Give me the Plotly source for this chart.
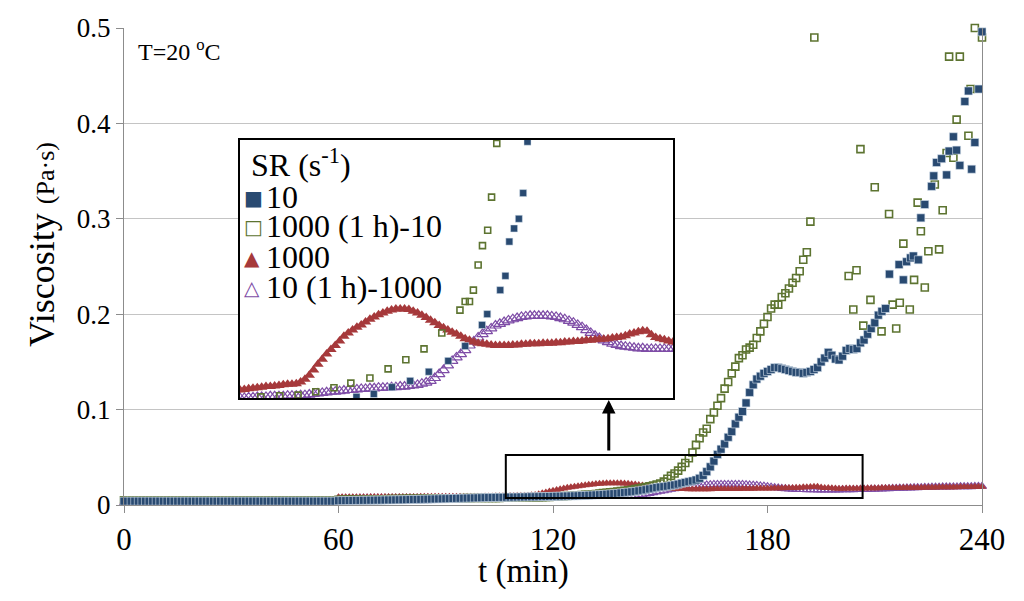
import plotly.graph_objects as go

# ---- data ----
# 1-min sampled series (triangles), t = 0..240 min
t_full = list(range(0, 241))

visc_1000 = [
    0.0040, 0.0040, 0.0040, 0.0040, 0.0040, 0.0040, 0.0040, 0.0040, 0.0040, 0.0040,
    0.0040, 0.0040, 0.0040, 0.0040, 0.0040, 0.0040, 0.0040, 0.0040, 0.0040, 0.0040,
    0.0040, 0.0040, 0.0040, 0.0040, 0.0040, 0.0040, 0.0040, 0.0040, 0.0040, 0.0040,
    0.0040, 0.0040, 0.0040, 0.0040, 0.0040, 0.0040, 0.0040, 0.0040, 0.0040, 0.0040,
    0.0040, 0.0040, 0.0040, 0.0040, 0.0040, 0.0040, 0.0040, 0.0040, 0.0040, 0.0040,
    0.0040, 0.0040, 0.0040, 0.0040, 0.0040, 0.0040, 0.0040, 0.0040, 0.0040, 0.0040,
    0.0080, 0.0080, 0.0081, 0.0081, 0.0081, 0.0082, 0.0082, 0.0082, 0.0082, 0.0083,
    0.0083, 0.0083, 0.0083, 0.0084, 0.0084, 0.0084, 0.0084, 0.0084, 0.0085, 0.0085,
    0.0085, 0.0085, 0.0085, 0.0086, 0.0086, 0.0086, 0.0086, 0.0086, 0.0086, 0.0087,
    0.0087, 0.0087, 0.0087, 0.0087, 0.0087, 0.0087, 0.0087, 0.0087, 0.0087, 0.0087,
    0.0087, 0.0088, 0.0089, 0.0090, 0.0091, 0.0092, 0.0093, 0.0093, 0.0094, 0.0095,
    0.0096, 0.0097, 0.0097, 0.0098, 0.0101, 0.0106, 0.0113, 0.0122, 0.0132, 0.0141,
    0.0150, 0.0158, 0.0165, 0.0173, 0.0181, 0.0187, 0.0192, 0.0197, 0.0201, 0.0206,
    0.0211, 0.0215, 0.0219, 0.0222, 0.0225, 0.0227, 0.0229, 0.0229, 0.0229, 0.0228,
    0.0225, 0.0222, 0.0218, 0.0214, 0.0209, 0.0205, 0.0200, 0.0196, 0.0192, 0.0188,
    0.0185, 0.0181, 0.0177, 0.0174, 0.0171, 0.0169, 0.0168, 0.0167, 0.0166, 0.0165,
    0.0165, 0.0165, 0.0165, 0.0166, 0.0166, 0.0167, 0.0167, 0.0168, 0.0168, 0.0168,
    0.0169, 0.0169, 0.0169, 0.0170, 0.0170, 0.0171, 0.0171, 0.0172, 0.0172, 0.0173,
    0.0174, 0.0174, 0.0175, 0.0176, 0.0176, 0.0177, 0.0178, 0.0179, 0.0180, 0.0182,
    0.0185, 0.0187, 0.0189, 0.0191, 0.0190, 0.0184, 0.0179, 0.0177, 0.0175, 0.0173,
    0.0171, 0.0171, 0.0172, 0.0172, 0.0173, 0.0173, 0.0174, 0.0174, 0.0175, 0.0175,
    0.0176, 0.0176, 0.0177, 0.0177, 0.0178, 0.0178, 0.0179, 0.0179, 0.0180, 0.0180,
    0.0181, 0.0181, 0.0182, 0.0182, 0.0183, 0.0183, 0.0184, 0.0184, 0.0185, 0.0185,
    0.0186, 0.0186, 0.0187, 0.0187, 0.0188, 0.0188, 0.0189, 0.0189, 0.0190, 0.0190, 0.0191,
]

visc_10_1000 = [
    0.0020, 0.0020, 0.0020, 0.0020, 0.0020, 0.0020, 0.0020, 0.0020, 0.0020, 0.0020,
    0.0020, 0.0020, 0.0020, 0.0020, 0.0020, 0.0020, 0.0020, 0.0020, 0.0020, 0.0020,
    0.0020, 0.0020, 0.0020, 0.0020, 0.0020, 0.0020, 0.0020, 0.0020, 0.0020, 0.0020,
    0.0020, 0.0020, 0.0020, 0.0020, 0.0020, 0.0020, 0.0020, 0.0020, 0.0020, 0.0020,
    0.0020, 0.0020, 0.0020, 0.0020, 0.0020, 0.0020, 0.0020, 0.0020, 0.0020, 0.0020,
    0.0020, 0.0020, 0.0020, 0.0020, 0.0020, 0.0020, 0.0020, 0.0020, 0.0020, 0.0020,
    0.0070, 0.0070, 0.0070, 0.0070, 0.0070, 0.0070, 0.0071, 0.0071, 0.0071, 0.0071,
    0.0071, 0.0071, 0.0071, 0.0071, 0.0071, 0.0072, 0.0072, 0.0072, 0.0072, 0.0072,
    0.0072, 0.0072, 0.0072, 0.0072, 0.0072, 0.0072, 0.0073, 0.0073, 0.0073, 0.0073,
    0.0073, 0.0073, 0.0073, 0.0073, 0.0073, 0.0073, 0.0073, 0.0073, 0.0073, 0.0073,
    0.0073, 0.0073, 0.0074, 0.0074, 0.0075, 0.0075, 0.0075, 0.0076, 0.0076, 0.0076,
    0.0076, 0.0077, 0.0077, 0.0077, 0.0078, 0.0078, 0.0079, 0.0080, 0.0081, 0.0082,
    0.0083, 0.0084, 0.0084, 0.0085, 0.0086, 0.0087, 0.0087, 0.0088, 0.0089, 0.0089,
    0.0090, 0.0090, 0.0091, 0.0091, 0.0091, 0.0092, 0.0092, 0.0093, 0.0093, 0.0094,
    0.0095, 0.0096, 0.0098, 0.0100, 0.0103, 0.0108, 0.0115, 0.0122, 0.0130, 0.0138,
    0.0144, 0.0150, 0.0157, 0.0165, 0.0172, 0.0179, 0.0185, 0.0190, 0.0195, 0.0200,
    0.0203, 0.0206, 0.0209, 0.0211, 0.0213, 0.0215, 0.0216, 0.0217, 0.0217, 0.0217,
    0.0217, 0.0217, 0.0216, 0.0215, 0.0213, 0.0211, 0.0208, 0.0205, 0.0201, 0.0197,
    0.0192, 0.0187, 0.0182, 0.0178, 0.0174, 0.0171, 0.0168, 0.0166, 0.0164, 0.0163,
    0.0162, 0.0161, 0.0160, 0.0160, 0.0159, 0.0159, 0.0159, 0.0159, 0.0159, 0.0159,
    0.0159, 0.0160, 0.0160, 0.0161, 0.0161, 0.0162, 0.0163, 0.0163, 0.0164, 0.0165,
    0.0166, 0.0167, 0.0169, 0.0170, 0.0172, 0.0173, 0.0175, 0.0176, 0.0177, 0.0178,
    0.0180, 0.0181, 0.0182, 0.0183, 0.0184, 0.0185, 0.0186, 0.0187, 0.0188, 0.0189,
    0.0190, 0.0190, 0.0191, 0.0191, 0.0192, 0.0192, 0.0193, 0.0193, 0.0194, 0.0195, 0.0196,
]

# SR = 10 (filled squares): 1-min points up to 213 min, then scattered points
t_10 = list(range(0, 214)) + [
    214.1, 216.8, 218.0, 218.9, 220.0, 220.8, 222.2, 222.9, 224.0, 225.9,
    226.5, 227.3, 228.7, 230.1, 230.8, 232.0, 232.9, 233.8, 235.2, 236.2,
    237.1, 238.0, 239.1, 240.0,
]
visc_10 = [
    0.0040, 0.0040, 0.0040, 0.0040, 0.0040, 0.0040, 0.0040, 0.0040, 0.0040, 0.0040,
    0.0040, 0.0040, 0.0040, 0.0040, 0.0040, 0.0040, 0.0040, 0.0040, 0.0040, 0.0040,
    0.0040, 0.0040, 0.0040, 0.0040, 0.0040, 0.0040, 0.0040, 0.0040, 0.0040, 0.0040,
    0.0040, 0.0040, 0.0040, 0.0040, 0.0040, 0.0040, 0.0040, 0.0040, 0.0040, 0.0040,
    0.0040, 0.0040, 0.0040, 0.0040, 0.0040, 0.0040, 0.0040, 0.0040, 0.0040, 0.0040,
    0.0040, 0.0040, 0.0040, 0.0040, 0.0040, 0.0040, 0.0040, 0.0040, 0.0040, 0.0040,
    0.0045, 0.0046, 0.0046, 0.0047, 0.0047, 0.0048, 0.0048, 0.0049, 0.0049, 0.0050,
    0.0050, 0.0051, 0.0051, 0.0052, 0.0053, 0.0053, 0.0054, 0.0055, 0.0055, 0.0056,
    0.0057, 0.0058, 0.0058, 0.0059, 0.0060, 0.0061, 0.0062, 0.0063, 0.0064, 0.0065,
    0.0066, 0.0067, 0.0068, 0.0069, 0.0070, 0.0071, 0.0072, 0.0073, 0.0074, 0.0075,
    0.0076, 0.0077, 0.0078, 0.0078, 0.0079, 0.0080, 0.0080, 0.0081, 0.0082, 0.0082,
    0.0083, 0.0084, 0.0084, 0.0085, 0.0086, 0.0086, 0.0087, 0.0088, 0.0088, 0.0089,
    0.0090, 0.0091, 0.0092, 0.0093, 0.0094, 0.0095, 0.0096, 0.0097, 0.0099, 0.0100,
    0.0102, 0.0104, 0.0106, 0.0108, 0.0110, 0.0113, 0.0116, 0.0119, 0.0122, 0.0126,
    0.0130, 0.0134, 0.0138, 0.0143, 0.0148, 0.0154, 0.0160, 0.0168, 0.0175, 0.0182,
    0.0188, 0.0192, 0.0197, 0.0203, 0.0210, 0.0218, 0.0228, 0.0236, 0.0244, 0.0252,
    0.0262, 0.0280, 0.0310, 0.0350, 0.0400, 0.0460, 0.0530, 0.0585, 0.0640, 0.0710,
    0.0770, 0.0850, 0.0920, 0.0980, 0.1070, 0.1180, 0.1260, 0.1320, 0.1350, 0.1380,
    0.1400, 0.1420, 0.1440, 0.1440, 0.1430, 0.1420, 0.1410, 0.1400, 0.1390, 0.1390,
    0.1380, 0.1390, 0.1400, 0.1420, 0.1440, 0.1500, 0.1540, 0.1600, 0.1570, 0.1530,
    0.1520, 0.1560, 0.1620, 0.1640, 0.1630, 0.1640, 0.1700, 0.1730, 0.1790, 0.1850,
    0.1910, 0.1990, 0.2030, 0.2060,
    0.242, 0.252, 0.236, 0.255, 0.259, 0.261, 0.257, 0.301, 0.315, 0.334,
    0.345, 0.359, 0.363, 0.346, 0.371, 0.386, 0.372, 0.356, 0.423, 0.434,
    0.352, 0.380, 0.436, 0.496,
]

# SR = 1000 (1 h) - 10 (open squares)
t_1000_10 = list(range(0, 193)) + [
    193.1, 202.7, 204.0, 204.9, 206.0, 206.8, 208.8, 210.0, 211.9, 214.0,
    215.0, 216.0, 217.0, 218.0, 219.8, 221.0, 222.0, 222.9, 224.0, 225.0,
    226.8, 228.0, 229.0, 230.1, 230.8, 232.0, 232.9, 233.8, 236.2, 236.8,
    238.0, 240.0,
]
visc_1000_10 = [
    0.0050, 0.0050, 0.0050, 0.0050, 0.0050, 0.0050, 0.0050, 0.0050, 0.0050, 0.0050,
    0.0050, 0.0050, 0.0050, 0.0050, 0.0050, 0.0050, 0.0050, 0.0050, 0.0050, 0.0050,
    0.0050, 0.0050, 0.0050, 0.0050, 0.0050, 0.0050, 0.0050, 0.0050, 0.0050, 0.0050,
    0.0050, 0.0050, 0.0050, 0.0050, 0.0050, 0.0050, 0.0050, 0.0050, 0.0050, 0.0050,
    0.0050, 0.0050, 0.0050, 0.0050, 0.0050, 0.0050, 0.0050, 0.0050, 0.0050, 0.0050,
    0.0050, 0.0050, 0.0050, 0.0050, 0.0050, 0.0050, 0.0050, 0.0050, 0.0050, 0.0050,
    0.0055, 0.0055, 0.0056, 0.0056, 0.0057, 0.0057, 0.0058, 0.0058, 0.0059, 0.0059,
    0.0060, 0.0060, 0.0061, 0.0061, 0.0062, 0.0062, 0.0063, 0.0063, 0.0064, 0.0064,
    0.0065, 0.0065, 0.0066, 0.0066, 0.0067, 0.0067, 0.0068, 0.0068, 0.0069, 0.0069,
    0.0070, 0.0070, 0.0071, 0.0071, 0.0071, 0.0072, 0.0072, 0.0072, 0.0073, 0.0073,
    0.0073, 0.0074, 0.0074, 0.0075, 0.0075, 0.0075, 0.0076, 0.0076, 0.0077, 0.0077,
    0.0077, 0.0078, 0.0078, 0.0078, 0.0079, 0.0080, 0.0081, 0.0082, 0.0084, 0.0085,
    0.0087, 0.0089, 0.0091, 0.0093, 0.0095, 0.0097, 0.0099, 0.0101, 0.0103, 0.0106,
    0.0108, 0.0112, 0.0116, 0.0120, 0.0124, 0.0128, 0.0132, 0.0136, 0.0140, 0.0145,
    0.0150, 0.0155, 0.0159, 0.0166, 0.0173, 0.0180, 0.0187, 0.0196, 0.0205, 0.0215,
    0.0225, 0.0245, 0.0275, 0.0305, 0.0330, 0.0360, 0.0400, 0.0440, 0.0490, 0.0550,
    0.0630, 0.0700, 0.0760, 0.0800, 0.0900, 0.0970, 0.1040, 0.1120, 0.1220, 0.1290,
    0.1380, 0.1450, 0.1540, 0.1570, 0.1630, 0.1650, 0.1680, 0.1750, 0.1820, 0.1900,
    0.1970, 0.2060, 0.2100, 0.2100, 0.2180, 0.2220, 0.2270, 0.2330, 0.2380, 0.2450,
    0.2570, 0.2650, 0.2970,
    0.490, 0.240, 0.205, 0.246, 0.373, 0.188, 0.215, 0.333, 0.182, 0.305,
    0.210, 0.185, 0.212, 0.274, 0.205, 0.236, 0.317, 0.287, 0.228, 0.266,
    0.336, 0.268, 0.309, 0.369, 0.470, 0.364, 0.404, 0.470, 0.387, 0.436,
    0.500, 0.490,
]

# inset: sparser square series as drawn in the enlarged view
inset_t_1000_10 = [104.8, 109.2, 113.4, 117.5, 121.7, 125.6, 130.0, 134.2, 138.3, 142.5,
                   146.6, 150.8, 152.0, 153.0, 153.9, 155.0, 156.0, 157.2, 158.1, 159.3]
inset_visc_1000_10 = [0.0075, 0.0077, 0.0078, 0.0084, 0.0091, 0.0099, 0.0108, 0.0124, 0.0140, 0.0159,
                      0.0187, 0.0227, 0.0242, 0.0242, 0.0262, 0.0306, 0.0340, 0.0367, 0.0425, 0.0519]
inset_t_10 = [126.9, 130.9, 135.1, 139.3, 143.6, 148.1, 152.0, 155.9, 157.1, 160.1,
              161.3, 162.2, 163.3, 164.4, 165.4, 166.4]
inset_visc_10 = [0.0075, 0.0080, 0.0092, 0.0103, 0.0119, 0.0138, 0.0164, 0.0201, 0.0220, 0.0262,
                 0.0287, 0.0347, 0.0370, 0.0387, 0.0432, 0.0522]

x_ticks = [0, 60, 120, 180, 240]
y_ticks = [0, 0.1, 0.2, 0.3, 0.4, 0.5]
y_ticktext = ["0", "0.1", "0.2", "0.3", "0.4", "0.5"]

legend_labels = ["10", "1000 (1 h)-10", "1000", "10 (1 h)-1000"]
legend_glyphs = ["\u25A0", "\u25A1", "\u25B2", "\u25B3"]

# ---- styling ----
FONT = "Liberation Serif"
C_BLUE = "#294a71"
C_GREEN = "#5d7431"
C_RED = "#a6393b"
C_PURPLE = "#7e4ca6"
colors = [C_BLUE, C_GREEN, C_RED, C_PURPLE]

# page body has an 8px margin, so the figure is a bit smaller than the window
OFF = 8
W, H = 1016, 593
ML, MR, MT, MB = 116, 42, 20, 96


def px_x(px):
    # screen pixel -> paper fraction
    return (px - OFF - ML) / (W - ML - MR)


def px_y(py):
    return (H - MB - (py - OFF)) / (H - MB - MT)


inset_x = [px_x(240), px_x(673)]
inset_y = [px_y(398), px_y(140)]
zoom_x = [100, 200]
zoom_y = [0.0073, 0.0525]

fig = go.Figure()

# main plot (bottom to top: purple, red, green, blue)
fig.add_trace(go.Scatter(x=t_full, y=visc_10_1000, mode="markers", cliponaxis=False,
                         marker=dict(symbol="triangle-up-open", size=8, color=C_PURPLE,
                                     line=dict(width=1.1, color=C_PURPLE))))
fig.add_trace(go.Scatter(x=t_full, y=visc_1000, mode="markers", cliponaxis=False,
                         marker=dict(symbol="triangle-up", size=8, color=C_RED,
                                     line=dict(width=0))))
fig.add_trace(go.Scatter(x=t_1000_10, y=visc_1000_10, mode="markers", cliponaxis=False,
                         marker=dict(symbol="square-open", size=7, color=C_GREEN,
                                     line=dict(width=1.6, color=C_GREEN))))
fig.add_trace(go.Scatter(x=t_10, y=visc_10, mode="markers", cliponaxis=False,
                         marker=dict(symbol="square", size=8, color=C_BLUE,
                                     line=dict(width=0.6, color="#d5e0ec"))))

# inset (enlarged view)
fig.add_trace(go.Scatter(x=t_full, y=visc_10_1000, mode="markers", xaxis="x2", yaxis="y2",
                         marker=dict(symbol="triangle-up-open", size=10, color=C_PURPLE,
                                     line=dict(width=1.2, color=C_PURPLE))))
fig.add_trace(go.Scatter(x=t_full, y=visc_1000, mode="markers", xaxis="x2", yaxis="y2",
                         marker=dict(symbol="triangle-up", size=10, color=C_RED,
                                     line=dict(width=0))))
fig.add_trace(go.Scatter(x=inset_t_1000_10, y=inset_visc_1000_10, mode="markers",
                         xaxis="x2", yaxis="y2",
                         marker=dict(symbol="square-open", size=6, color=C_GREEN,
                                     line=dict(width=1.6, color=C_GREEN))))
fig.add_trace(go.Scatter(x=inset_t_10, y=inset_visc_10, mode="markers",
                         xaxis="x2", yaxis="y2",
                         marker=dict(symbol="square", size=7, color=C_BLUE,
                                     line=dict(width=0.5, color="#d5e0ec"))))

fig.update_traces(showlegend=False, hoverinfo="skip")

annotations = []
# legend inside the inset
annotations.append(dict(xref="paper", yref="paper", x=px_x(249), y=px_y(163),
                        xanchor="left", yanchor="middle", showarrow=False,
                        text="SR (s<sup>-1</sup>)", font=dict(family=FONT, size=32, color="black")))
legend_py = [197, 226, 257, 287]
for lab, gl, col, py in zip(legend_labels, legend_glyphs, colors, legend_py):
    annotations.append(dict(xref="paper", yref="paper", x=px_x(242), y=px_y(py + 1),
                            xanchor="left", yanchor="middle", showarrow=False,
                            text=gl, font=dict(family="DejaVu Sans", size=20, color=col)))
    annotations.append(dict(xref="paper", yref="paper", x=px_x(264), y=px_y(py),
                            xanchor="left", yanchor="middle", showarrow=False,
                            text=lab, font=dict(family=FONT, size=32, color="black")))

annotations.append(dict(xref="paper", yref="paper", x=px_x(136), y=px_y(50),
                        xanchor="left", yanchor="middle", showarrow=False,
                        text="T=20 <sup>o</sup>C", font=dict(family=FONT, size=24, color="black")))
# axis titles
annotations.append(dict(xref="paper", yref="paper", x=px_x(523), y=px_y(571),
                        xanchor="center", yanchor="middle", showarrow=False,
                        text="t (min)", font=dict(family=FONT, size=33, color="black")))
annotations.append(dict(xref="paper", yref="paper", x=px_x(42), y=px_y(245),
                        xanchor="center", yanchor="middle", showarrow=False, textangle=-90,
                        text="Viscosity <span style='font-size:26px'>(Pa\u00b7s)</span>",
                        font=dict(family=FONT, size=36, color="black")))
# arrow from zoom box to inset
annotations.append(dict(xref="x", yref="y", axref="x", ayref="y",
                        x=135.6, y=0.110, ax=135.6, ay=0.0556, text="",
                        showarrow=True, arrowhead=2, arrowsize=0.9, arrowwidth=3,
                        arrowcolor="black"))

shapes = [
    # white background for the inset (above main gridlines)
    dict(type="rect", xref="paper", yref="paper", layer="between",
         x0=inset_x[0], x1=inset_x[1], y0=inset_y[0], y1=inset_y[1],
         fillcolor="white", line=dict(width=0)),
    # zoom box on main chart
    dict(type="rect", xref="x", yref="y", x0=106.8, x1=206.6, y0=zoom_y[0], y1=zoom_y[1],
         line=dict(color="black", width=2), fillcolor="rgba(0,0,0,0)", layer="above"),
]

fig.update_layout(
    width=W, height=H,
    margin=dict(l=ML, r=MR, t=MT, b=MB),
    paper_bgcolor="white", plot_bgcolor="white",
    font=dict(family=FONT, color="black"),
    showlegend=False,
    annotations=annotations,
    shapes=shapes,
    xaxis=dict(range=[0, 240], tickvals=x_ticks, ticks="outside", ticklen=7,
               tickcolor="#8c8c8c", showline=True, linecolor="#8c8c8c", linewidth=1,
               showgrid=False, zeroline=False, tickfont=dict(family=FONT, size=31),
               automargin=False),
    yaxis=dict(range=[0, 0.5], tickvals=y_ticks, ticktext=y_ticktext, ticks="outside",
               ticklen=7, tickcolor="#8c8c8c", showline=True, mirror=True,
               linecolor="#8c8c8c", linewidth=1, showgrid=True, gridcolor="#c4c4c4",
               gridwidth=1, zeroline=False, tickfont=dict(family=FONT, size=27),
               automargin=False),
    xaxis2=dict(domain=inset_x, anchor="y2", range=zoom_x, showticklabels=False,
                ticks="", showgrid=False, zeroline=False, showline=True, mirror=True,
                linecolor="black", linewidth=2),
    yaxis2=dict(domain=inset_y, anchor="x2", range=zoom_y, showticklabels=False,
                ticks="", showgrid=False, zeroline=False, showline=True, mirror=True,
                linecolor="black", linewidth=2),
)

fig.write_html("out.html")
